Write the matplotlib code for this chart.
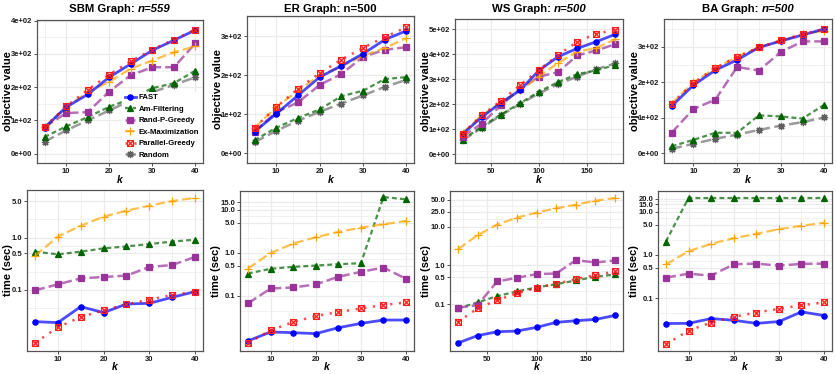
import matplotlib
matplotlib.use('Agg')
import matplotlib.pyplot as plt
from matplotlib.path import Path
import numpy as np

plt.rcParams['font.family'] = ['Liberation Sans', 'DejaVu Sans']

# ---------------- data ----------------
methods = ['FAST', 'Am-Filtering', 'Rand-P-Greedy', 'Ex-Maximization', 'Parallel-Greedy', 'Random']
k_small = [5, 10, 15, 20, 25, 30, 35, 40]
k_ws = [20, 40, 60, 80, 100, 120, 140, 160, 180]

titles_main = ['SBM Graph: ', 'ER Graph: n=500', 'WS Graph: ', 'BA Graph: ']
titles_italic = ['n=559', '', 'n=500', 'n=500']

sbm_obj = {
    'FAST': [78, 140, 178, 230, 270, 311, 341, 372],
    'Am-Filtering': [50, 82, 110, 141, 165, 197, 212, 250],
    'Rand-P-Greedy': [80, 122, 125, 187, 236, 260, 260, 332],
    'Ex-Maximization': [80, 140, 185, 216, 256, 280, 305, 323],
    'Parallel-Greedy': [80, 142, 192, 238, 278, 313, 343, 373],
    'Random': [36, 70, 100, 130, 160, 185, 207, 230],
}
er_obj = {
    'FAST': [55, 101, 148, 195, 224, 255, 291, 314],
    'Am-Filtering': [33, 65, 90, 112, 146, 160, 190, 195],
    'Rand-P-Greedy': [55, 105, 130, 175, 203, 247, 265, 272],
    'Ex-Maximization': [65, 118, 160, 200, 222, 250, 270, 295],
    'Parallel-Greedy': [65, 118, 165, 205, 240, 270, 298, 323],
    'Random': [28, 57, 83, 106, 127, 148, 170, 188],
}
ws_obj = {
    'FAST': [80, 148, 205, 255, 335, 390, 423, 450, 480],
    'Am-Filtering': [57, 110, 158, 203, 250, 288, 320, 335, 357],
    'Rand-P-Greedy': [70, 122, 195, 260, 310, 328, 395, 415, 440],
    'Ex-Maximization': [85, 155, 205, 255, 310, 365, 410, 425, 460],
    'Parallel-Greedy': [82, 155, 213, 275, 337, 397, 450, 482, 498],
    'Random': [55, 105, 155, 200, 243, 280, 310, 340, 363],
}
ba_obj = {
    'FAST': [133, 192, 234, 263, 298, 316, 333, 350],
    'Am-Filtering': [20, 38, 58, 58, 107, 104, 98, 137],
    'Rand-P-Greedy': [58, 125, 151, 243, 233, 285, 315, 315],
    'Ex-Maximization': [140, 200, 240, 272, 298, 316, 335, 345],
    'Parallel-Greedy': [140, 198, 240, 272, 298, 318, 335, 350],
    'Random': [13, 27, 41, 53, 66, 78, 88, 101],
}

sbm_time = {
    'FAST': [0.0248, 0.0238, 0.048, 0.0369, 0.054, 0.0556, 0.0724, 0.093],
    'Am-Filtering': [0.54, 0.48, 0.54, 0.625, 0.68, 0.756, 0.84, 0.916],
    'Rand-P-Greedy': [0.0985, 0.128, 0.167, 0.177, 0.188, 0.275, 0.30, 0.428],
    'Ex-Maximization': [0.45, 1.05, 1.69, 2.52, 3.28, 4.09, 5.0, 5.8],
    'Parallel-Greedy': [0.0097, 0.0194, 0.0305, 0.0408, 0.0532, 0.0654, 0.080, 0.093],
}
er_time = {
    'FAST': [0.00883, 0.0143, 0.0138, 0.0131, 0.018, 0.0227, 0.0272, 0.0272],
    'Am-Filtering': [0.33, 0.425, 0.472, 0.507, 0.544, 0.575, 20.0, 17.7],
    'Rand-P-Greedy': [0.0663, 0.148, 0.156, 0.184, 0.277, 0.361, 0.456, 0.248],
    'Ex-Maximization': [0.43, 0.99, 1.65, 2.31, 3.08, 3.88, 4.64, 5.55],
    'Parallel-Greedy': [0.00792, 0.0156, 0.0244, 0.0337, 0.0417, 0.0507, 0.0607, 0.070],
}
ws_time = {
    'FAST': [0.0098, 0.0152, 0.0192, 0.020, 0.0249, 0.0336, 0.037, 0.040, 0.0509],
    'Am-Filtering': [0.0772, 0.110, 0.161, 0.213, 0.27, 0.329, 0.409, 0.509, 0.585],
    'Rand-P-Greedy': [0.0804, 0.094, 0.385, 0.48, 0.597, 0.62, 1.37, 1.2, 1.35],
    'Ex-Maximization': [2.64, 6.08, 11.5, 17.4, 23.5, 30.4, 37.8, 48.0, 56.0],
    'Parallel-Greedy': [0.0342, 0.0772, 0.127, 0.189, 0.264, 0.336, 0.443, 0.562, 0.70],
}
ba_time = {
    'FAST': [0.0258, 0.026, 0.0336, 0.0307, 0.026, 0.0286, 0.048, 0.0395],
    'Am-Filtering': [2.04, 20.8, 20.8, 20.8, 20.8, 20.8, 20.8, 20.8],
    'Rand-P-Greedy': [0.297, 0.368, 0.331, 0.607, 0.629, 0.565, 0.62, 0.629],
    'Ex-Maximization': [0.6, 1.22, 1.8, 2.44, 3.08, 3.95, 4.72, 5.55],
    'Parallel-Greedy': [0.0085, 0.0177, 0.0272, 0.0368, 0.0464, 0.0565, 0.0687, 0.0793],
}

obj_yticks = [[0, 100, 200, 300, 400], [0, 100, 200, 300], [0, 100, 200, 300, 400, 500], [0, 100, 200, 300]]
obj_ylims = [(-28, 402), (-25.6, 352), (-36, 541), (-27, 378)]
time_yticks = [[0.1, 0.5, 1.0, 5.0],
               [0.1, 0.5, 1.0, 5.0, 10.0, 15.0],
               [0.1, 0.5, 1.0, 10.0, 25.0, 50.0],
               [0.1, 0.5, 1.0, 5.0, 10.0, 15.0, 20.0]]
time_ylims = [(0.00682, 8.15), (0.00516, 27.7), (0.00608, 85.3), (0.00596, 30.2)]

# ---------------- styles ----------------
W, H = 836, 374
sqx = Path([(-1, -1), (1, -1), (1, 1), (-1, 1), (-1, -1), (-1, -1), (1, 1), (-1, 1), (1, -1)],
           [Path.MOVETO, Path.LINETO, Path.LINETO, Path.LINETO, Path.CLOSEPOLY,
            Path.MOVETO, Path.LINETO, Path.MOVETO, Path.LINETO])

styles = {
    'FAST': dict(c='#0000FF', mc='#0000FF', ls='-', dashes=None, lw=2.0, m='o', ms=3.8, mfc=True, z=6),
    'Am-Filtering': dict(c='#006400', mc='#006400', ls='--', dashes=(2.2, 1.4), lw=1.6, m='^', ms=4.4, mfc=True, z=3),
    'Rand-P-Greedy': dict(c='#993399', mc='#993399', ls='--', dashes=(4.0, 1.6), lw=1.8, m='s', ms=3.8, mfc=True, z=4),
    'Ex-Maximization': dict(c='#FFA500', mc='#FFA500', ls='--', dashes=(4.2, 1.8), lw=1.6, m='+', ms=6.2, mfc=True, z=5),
    'Parallel-Greedy': dict(c='#FF0000', mc='#FF2020', ls=':', dashes=(0.9, 2.6), lw=1.8, m=sqx, ms=4.2, mfc=False, z=7),
    'Random': dict(c='#707070', mc='#606060', ls='--', dashes=(4.2, 1.8), lw=1.8, m=(8, 2, 0), ms=5.2, mfc=True, z=2),
}

fig = plt.figure(figsize=(W / 100, H / 100), dpi=100)


def add_ax(x0, y0, x1, y1):
    return fig.add_axes([x0 / W, 1 - y1 / H, (x1 - x0) / W, (y1 - y0) / H])


top_boxes = [(37, 20, 203, 163), (247, 16, 414, 163), (455, 19, 623, 163), (664, 19, 832, 163)]
bot_boxes = [(27, 190, 203, 351), (240, 191, 414, 351), (450, 191, 623, 351), (658, 191, 832, 351)]
obj_data = [sbm_obj, er_obj, ws_obj, ba_obj]
time_data = [sbm_time, er_time, ws_time, ba_time]
kvals = [k_small, k_small, k_ws, k_small]
xlims = [(3.25, 41.75), (3.25, 41.75), (12, 188), (3.25, 41.75)]
xticks = [[10, 20, 30, 40], [10, 20, 30, 40], [50, 100, 150], [10, 20, 30, 40]]

GRID = '#EBEBEB'
TICKC = '#1A1A1A'


def minor_breaks(b, lim):
    b = list(b)
    bd = b[1] - b[0]
    if lim[0] < b[0]:
        b = [b[0] - bd] + b
    if lim[1] > b[-1]:
        b = b + [b[-1] + bd]
    return [(b[i] + b[i + 1]) / 2 for i in range(len(b) - 1)]


def sci(v):
    if v == 0:
        return '0e+00'
    e = int(np.floor(np.log10(abs(v))))
    m = v / 10 ** e
    return '%de+%02d' % (round(m), e)


def style_axes(ax, xt, xl, yt, yl, logy):
    ax.set_xlim(xl)
    if logy:
        ax.set_yscale('log')
    ax.set_ylim(yl)
    for v in minor_breaks(xt, xl):
        if xl[0] < v < xl[1]:
            ax.axvline(v, color=GRID, lw=0.5, zorder=0)
    for v in xt:
        ax.axvline(v, color=GRID, lw=0.9, zorder=0)
    if logy:
        ly = np.log10(yt)
        for v in minor_breaks(list(ly), (np.log10(yl[0]), np.log10(yl[1]))):
            ax.axhline(10 ** v, color=GRID, lw=0.5, zorder=0)
    else:
        for v in minor_breaks(yt, yl):
            if yl[0] < v < yl[1]:
                ax.axhline(v, color=GRID, lw=0.5, zorder=0)
    for v in yt:
        ax.axhline(v, color=GRID, lw=0.9, zorder=0)
    ax.set_xticks(xt)
    ax.set_xticklabels([str(v) for v in xt])
    ax.set_yticks(yt)
    if logy:
        ax.set_yticklabels(['%.1f' % v for v in yt])
    else:
        ax.set_yticklabels([sci(v) for v in yt])
    ax.minorticks_off()
    ax.tick_params(axis='both', length=2.2, width=0.6, color='#333333', pad=1.2,
                   labelsize=5.5, labelcolor=TICKC)
    for lab in ax.get_xticklabels() + ax.get_yticklabels():
        lab.set_fontweight('bold')
    for s in ax.spines.values():
        s.set_color('#555555')
        s.set_linewidth(0.9)


def draw_series(ax, k, data, names):
    handles = []
    for name in names:
        if name not in data:
            continue
        st = styles[name]
        rgba = matplotlib.colors.to_rgba(st['c'], 0.7)
        ln, = ax.plot(k, data[name], color=rgba, lw=st['lw'], linestyle=st['ls'],
                      marker=st['m'], ms=st['ms'],
                      mfc=st['mc'] if st['mfc'] else 'none', mec=st['mc'],
                      mew=0.9, zorder=st['z'], label=name, clip_on=False)
        if st['dashes'] is not None:
            ln.set_dashes(st['dashes'])
        handles.append(ln)
    return handles


renderer = fig.canvas.get_renderer()


def px(x, y):
    return x / W, 1 - y / H


for i in range(4):
    # top: objective
    ax = add_ax(*top_boxes[i])
    style_axes(ax, xticks[i], xlims[i], obj_yticks[i], obj_ylims[i], False)
    hs = draw_series(ax, kvals[i], obj_data[i], methods)
    x0, y0, x1, y1 = top_boxes[i]
    fig.text(*px(x0 - 29 if i != 0 else 8, (y0 + y1) / 2), 'objective value', rotation=90,
             ha='center', va='center', fontsize=8, fontweight='bold', color='black')
    fig.text(*px((x0 + x1) / 2, 180), 'k', ha='center', va='center', fontsize=7.5,
             style='italic', fontweight='bold', color='black')
    cx = (x0 + x1) / 2
    t1 = fig.text(0, 0, titles_main[i], fontsize=8.2, fontweight='bold')
    w1 = t1.get_window_extent(renderer).width
    w2 = 0
    t2 = None
    if titles_italic[i]:
        t2 = fig.text(0, 0, titles_italic[i], fontsize=8.2, fontweight='bold', style='italic')
        w2 = t2.get_window_extent(renderer).width
    tot = w1 + w2
    ty = 9
    t1.set_position(px(cx - tot / 2, ty))
    t1.set_va('center')
    if t2 is not None:
        t2.set_position(px(cx - tot / 2 + w1, ty))
        t2.set_va('center')
    if i == 0:
        leg = ax.legend(handles=hs, loc='upper left', bbox_to_anchor=(0.515, 0.5),
                        fontsize=5.6, frameon=True, facecolor='white', edgecolor='none',
                        framealpha=1.0, handlelength=1.4, handletextpad=0.4,
                        labelspacing=0.52, borderpad=0.3, borderaxespad=0.0)
        for t in leg.get_texts():
            t.set_fontweight('bold')
        leg.set_zorder(20)

    # bottom: time
    ax = add_ax(*bot_boxes[i])
    style_axes(ax, xticks[i], xlims[i], time_yticks[i], time_ylims[i], True)
    draw_series(ax, kvals[i], time_data[i], methods)
    x0, y0, x1, y1 = bot_boxes[i]
    fig.text(*px(x0 - 24 if i != 0 else 8, (y0 + y1) / 2), 'time (sec)', rotation=90,
             ha='center', va='center', fontsize=8, fontweight='bold', color='black')
    fig.text(*px((x0 + x1) / 2, 367), 'k', ha='center', va='center', fontsize=7.5,
             style='italic', fontweight='bold', color='black')

fig.savefig('out.png', dpi=100)
